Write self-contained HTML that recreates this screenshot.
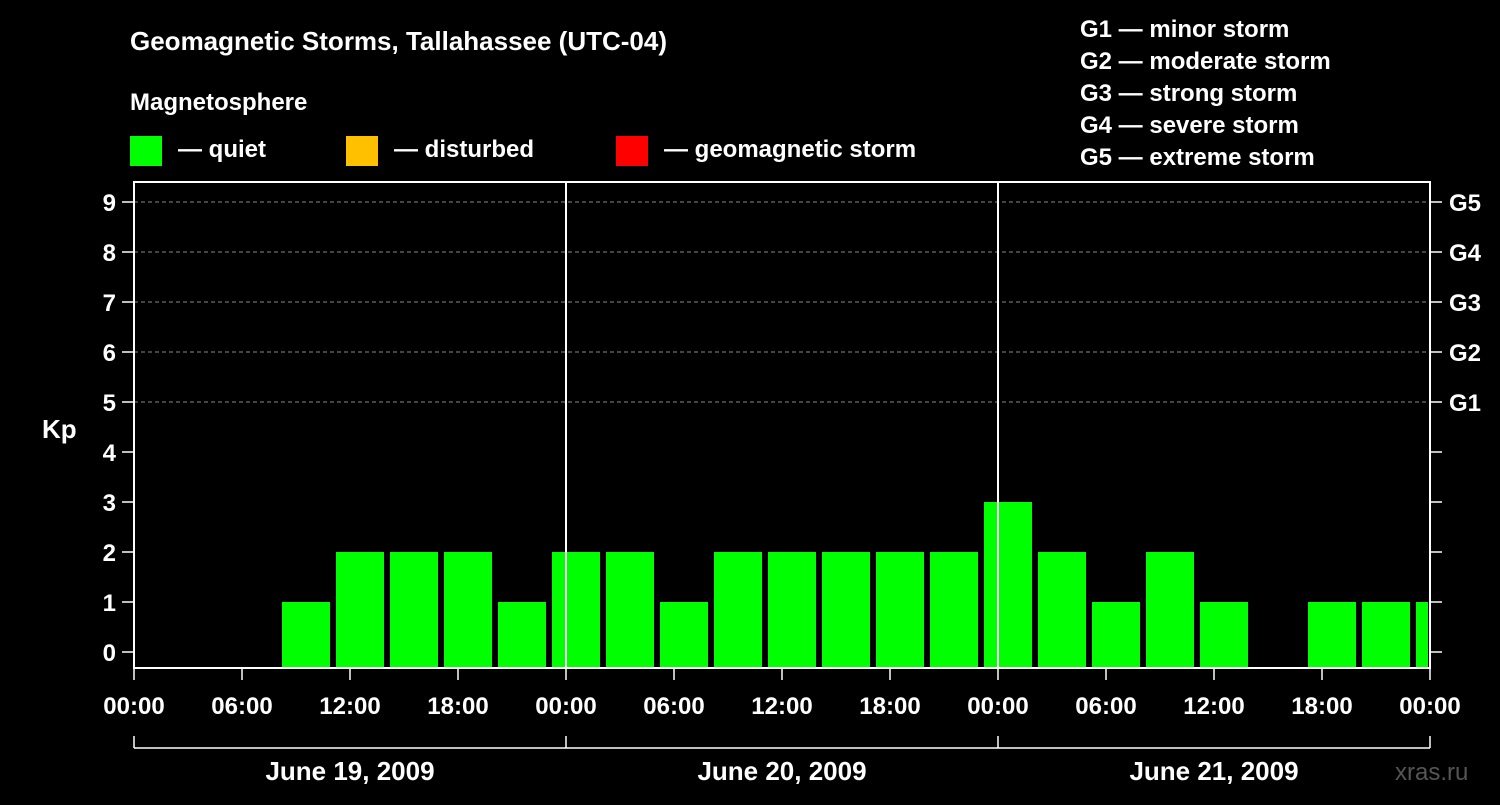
<!DOCTYPE html>
<html><head><meta charset="utf-8"><style>
body{margin:0;background:#000;}
svg text{font-family:"Liberation Sans",sans-serif;font-weight:bold;fill:#fff;}
</style></head><body>
<svg width="1500" height="800" xmlns="http://www.w3.org/2000/svg">
<rect width="1500" height="800" fill="#000"/>
<text x="130" y="50" font-size="26">Geomagnetic Storms, Tallahassee (UTC-04)</text>
<text x="130" y="110" font-size="24">Magnetosphere</text>
<g><rect x="130" y="136" width="32" height="30" fill="#00ff00"/><text x="178" y="157" font-size="24">— quiet</text></g>
<g><rect x="346" y="136" width="32" height="30" fill="#ffc000"/><text x="394" y="157" font-size="24">— disturbed</text></g>
<g><rect x="616" y="136" width="32" height="30" fill="#ff0000"/><text x="664" y="157" font-size="24">— geomagnetic storm</text></g>
<g font-size="24">
<text x="1080" y="37">G1 — minor storm</text>
<text x="1080" y="69">G2 — moderate storm</text>
<text x="1080" y="101">G3 — strong storm</text>
<text x="1080" y="133">G4 — severe storm</text>
<text x="1080" y="165">G5 — extreme storm</text>
</g>
<text x="42" y="438" font-size="26">Kp</text>
<text x="1395" y="780" font-size="24" fill="#555" style="fill:#555;font-weight:normal">xras.ru</text>
<g id="plot"></g>
</svg>
<script>
const kpValues=[null,null,null,null,1,2,2,2,1,2,2,1,2,2,2,2,2,3,2,1,2,1,null,1,1,1];
const binStartHour=-4;
const binHours=3;
const yTicks=[0,1,2,3,4,5,6,7,8,9];
const gLabels=["G1","G2","G3","G4","G5"];
const xTickLabels=["00:00","06:00","12:00","18:00","00:00","06:00","12:00","18:00","00:00","06:00","12:00","18:00","00:00"];
const dateLabels=["June 19, 2009","June 20, 2009","June 21, 2009"];
const X0=134,X1=1430,TOP=182,BOT=668,HOURS=72;
const xs=h=>X0+(h/HOURS)*(X1-X0);
const ys=v=>652-v*50;
const NS="http://www.w3.org/2000/svg";
const g=document.getElementById('plot');
function mk(t,a){const e=document.createElementNS(NS,t);for(const k in a)e.setAttribute(k,a[k]);g.appendChild(e);return e;}
const clip=mk('clipPath',{id:'pc'});clip.appendChild(Object.assign(document.createElementNS(NS,'rect'),{}));
clip.firstChild.setAttribute('x',X0);clip.firstChild.setAttribute('y',TOP);clip.firstChild.setAttribute('width',X1-X0-2);clip.firstChild.setAttribute('height',BOT-TOP);
yTicks.forEach(v=>{
 if(v>=5){const l=mk('line',{x1:X0,x2:X1,y1:ys(v),y2:ys(v),stroke:'#888','stroke-dasharray':'4,3','stroke-width':1});
 
 }
 mk('line',{x1:122,x2:X0,y1:ys(v),y2:ys(v),stroke:'#fff','stroke-width':1.5});
 mk('line',{x1:X1,x2:1442,y1:ys(v),y2:ys(v),stroke:'#fff','stroke-width':1.5});
 const t=mk('text',{x:116,y:ys(v)+9,'font-size':24,'text-anchor':'end'});t.textContent=v;
 
 
});
gLabels.forEach((s,i)=>{const t=mk('text',{x:1449,y:ys(5+i)+9,'font-size':24});t.textContent=s;
 
 });
const bars=mk('g',{'clip-path':'url(#pc)'});
kpValues.forEach((v,i)=>{if(v===null)return;
 const h=binStartHour+i*binHours;const x=xs(h)+4,w=xs(h+binHours)-xs(h)-6;
 const r=document.createElementNS(NS,'rect');
 r.setAttribute('x',x);r.setAttribute('y',ys(v));r.setAttribute('width',w);r.setAttribute('height',BOT-ys(v));
 r.setAttribute('fill',v>=5?'#ff0000':v>=4?'#ffc000':'#00ff00');
 
 
 bars.appendChild(r);});
[24,48].forEach(h=>mk('line',{x1:xs(h),x2:xs(h),y1:TOP,y2:BOT,stroke:'#fff','stroke-width':2}));
const fr=mk('rect',{x:X0,y:TOP,width:X1-X0,height:BOT-TOP,fill:'none',stroke:'#fff','stroke-width':2});


xTickLabels.forEach((s,i)=>{const x=xs(i*6);
 mk('line',{x1:x,x2:x,y1:BOT,y2:680,stroke:'#fff','stroke-width':1.5});
 const t=mk('text',{x:x,y:714,'font-size':24,'text-anchor':'middle'});t.textContent=s;
 
 });
mk('line',{x1:X0,x2:X1,y1:748,y2:748,stroke:'#fff','stroke-width':1.5});
[0,24,48,72].forEach(h=>mk('line',{x1:xs(h),x2:xs(h),y1:736,y2:748,stroke:'#fff','stroke-width':1.5}));
dateLabels.forEach((s,i)=>{const t=mk('text',{x:xs(i*24+12),y:780,'font-size':26,'text-anchor':'middle'});t.textContent=s;
 
 });
</script>
</body></html>
